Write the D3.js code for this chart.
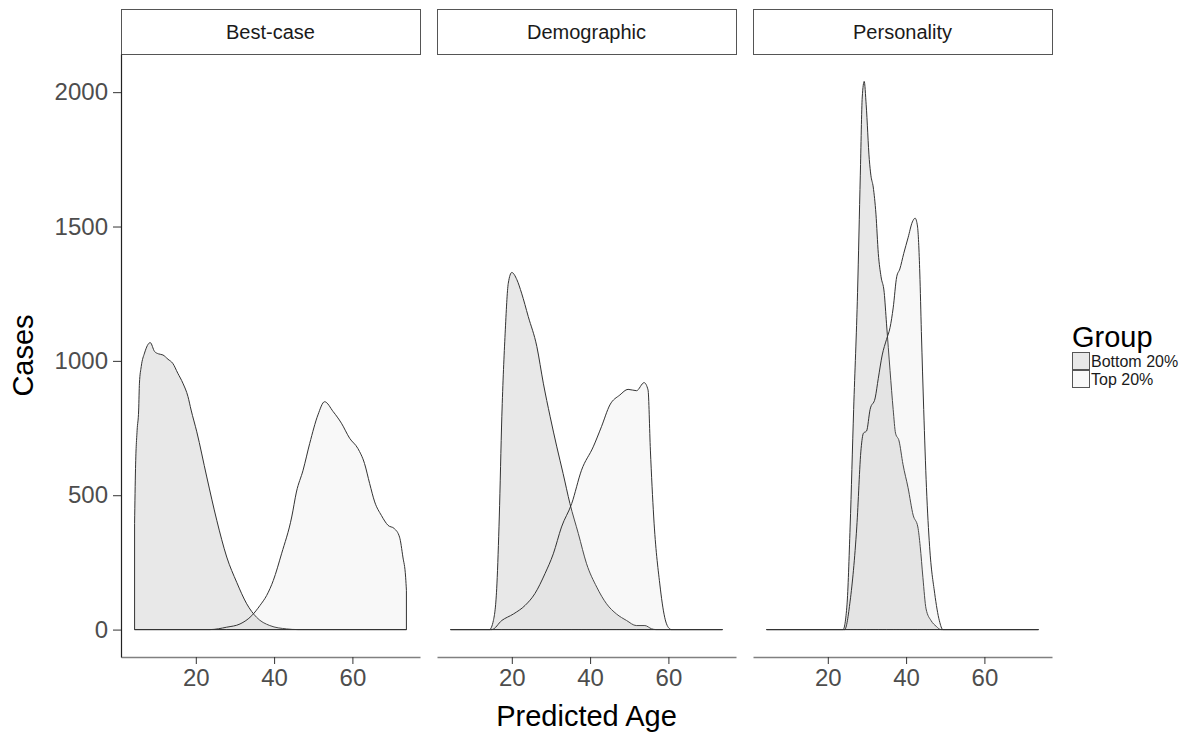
<!DOCTYPE html>
<html lang="en">
<head>
<meta charset="UTF-8">
<title>Predicted Age by Group</title>
<style>
    body {
        margin: 0;
        padding: 0;
        background-color: #fff;
        font-family: "Liberation Sans", Arial, sans-serif;
    }
    .tick text {
        font-family: "Liberation Sans", Arial, sans-serif;
    }
</style>
</head>
<body>
<svg id="chart" width="1184" height="733"></svg>

<script src="https://d3js.org/d3.v7.min.js"></script>
<script>
    // data: [predicted age, cases]
    const panels = ["Best-case", "Demographic", "Personality"];
    const groups = ["Bottom 20%", "Top 20%"];
    const xTicks = [20, 40, 60];
    const yTicks = [0, 500, 1000, 1500, 2000];

    const bestBottom = [[4.36, 395], [4.6, 600], [5.0, 740], [5.4, 817], [5.6, 917], [6.06, 979], [6.9, 1029],
        [8.36, 1068], [9.46, 1035], [10.5, 1026], [11.6, 1022], [12.9, 1006], [14.1, 991], [15.4, 954],
        [16.7, 917], [18.0, 867], [18.8, 817], [20.25, 736], [22.8, 568], [25.35, 407], [27.9, 270],
        [30.45, 176], [33.0, 96], [35.5, 46], [38.9, 15], [43.2, 2.5], [46.1, 0], [73.8, 0]];
    const bestTop = [[4.36, 0], [23.6, 0], [27.9, 9], [31.3, 21], [34.3, 52], [36.4, 90], [38.1, 127],
        [39.8, 183], [41.9, 282], [44.5, 419], [45.7, 512], [47.4, 593], [49.1, 693], [51.2, 799],
        [52.9, 848], [55.1, 811], [57.2, 768], [59.3, 712], [61.4, 674], [63.1, 618], [64.4, 544],
        [65.7, 475], [67.4, 425], [69.1, 388], [70.7, 376], [72.05, 344], [72.9, 270], [73.6, 195], [73.8, 146]];

    const demoBottom = [[4.36, 0], [14.3, 0], [15.3, 34], [16.2, 170], [16.8, 419], [17.45, 792], [18.3, 1103],
        [19.1, 1289], [20.0, 1329], [21.3, 1302], [22.5, 1252], [24.2, 1165], [26.4, 1053], [28.05, 917],
        [29.8, 792], [31.5, 680], [33.1, 581], [34.85, 469], [37.0, 357], [39.1, 245], [41.7, 158],
        [44.2, 96], [46.75, 58], [49.3, 34], [51.8, 15], [54.0, 15], [55.7, 3], [56.8, 0], [73.8, 0]];
    const demoTop = [[4.36, 0], [14.9, 0], [17.45, 34], [20.4, 58], [23.4, 90], [25.9, 134], [28.5, 209],
        [30.6, 282], [32.7, 382], [35.3, 469], [37.8, 593], [40.8, 680], [42.9, 755], [45.05, 836],
        [47.6, 873], [49.7, 894], [51.85, 889], [53.8, 919], [54.8, 892], [55.4, 668], [56.25, 419],
        [57.8, 170], [59.05, 46], [60.3, 3], [60.8, 0], [73.8, 0]];

    const persBottom = [[4.36, 0], [23.9, 0], [24.9, 92], [25.7, 382], [26.6, 819], [27.6, 1255], [28.3, 1691],
        [28.8, 1982], [29.3, 2040], [29.8, 1953], [30.6, 1749], [31.0, 1691], [31.6, 1647], [32.3, 1546],
        [32.9, 1400], [33.6, 1313], [34.4, 1255], [35.0, 1138], [35.9, 964], [36.7, 819], [37.3, 731],
        [38.2, 702], [39.2, 615], [40.5, 528], [41.8, 426], [43.0, 382], [43.6, 310], [44.3, 193],
        [45.1, 77], [46.4, 33], [47.7, 12], [48.9, 0], [73.8, 0]];
    const persTop = [[4.36, 0], [24.3, 0], [25.7, 106], [27.4, 382], [28.5, 673], [29.1, 731], [29.9, 739],
        [30.8, 819], [32.1, 862], [32.9, 935], [33.9, 1022], [35.0, 1080], [35.9, 1124], [36.7, 1197],
        [37.6, 1313], [38.4, 1342], [39.4, 1400], [40.5, 1458], [41.6, 1517], [42.3, 1531], [42.9, 1502],
        [43.5, 1327], [43.9, 1109], [44.5, 819], [45.2, 528], [46.0, 310], [47.3, 135], [48.5, 33],
        [49.4, 0], [73.8, 0]];

    const series = [[bestBottom, bestTop], [demoBottom, demoTop], [persBottom, persTop]];

    // group fills (semi transparent so the overlap gets a bit darker)
    const fills = ["#666666", "#d0d0d0"];
    const fillOpacity = 0.15;

    const svg = d3.select("#chart");
    const font = "'Liberation Sans', Arial, sans-serif";

    // layout of the three facets
    const panelLeft = [121, 437, 753];
    const panelWidth = 299;
    const panelTop = 54;
    const panelBottom = 657;
    const stripTop = 9;

    const yScale = d3.scaleLinear()
        .domain([-102, 2142])
        .range([panelBottom, panelTop]);

    panels.forEach(function(name, i) {
        const left = panelLeft[i];
        const xScale = d3.scaleLinear()
            .domain([0.89, 77.27])
            .range([left, left + panelWidth]);

        // strip
        svg.append("rect")
            .attr("x", left + 0.5)
            .attr("y", stripTop + 0.5)
            .attr("width", panelWidth)
            .attr("height", panelTop - stripTop)
            .attr("fill", "#fff")
            .attr("stroke", "#555")
            .attr("stroke-width", 1);
        svg.append("text")
            .attr("x", left + panelWidth / 2)
            .attr("y", (stripTop + panelTop) / 2 + 7)
            .attr("text-anchor", "middle")
            .attr("font-family", font)
            .attr("font-size", 20)
            .attr("fill", "#1a1a1a")
            .text(name);

        // densities
        const area = d3.area()
            .x(d => xScale(d[0]))
            .y0(yScale(0))
            .y1(d => yScale(d[1]))
            .curve(d3.curveMonotoneX);

        series[i].forEach(function(data, g) {
            svg.append("path")
                .datum(data)
                .attr("d", area)
                .attr("fill", fills[g])
                .attr("fill-opacity", fillOpacity)
                .attr("stroke", "#333")
                .attr("stroke-width", 1)
                .attr("stroke-linejoin", "round");
        });

        // x axis
        const xAxis = svg.append("g")
            .attr("transform", `translate(0, ${panelBottom})`)
            .call(d3.axisBottom(xScale).tickValues(xTicks).tickSize(7).tickSizeOuter(0).tickPadding(5));
        xAxis.select(".domain").attr("stroke", "#808080").attr("stroke-width", 1.5);
        xAxis.selectAll(".tick line").attr("stroke", "#333");
        xAxis.selectAll(".tick text")
            .attr("font-size", 24)
            .attr("fill", "#4d4d4d");
    });

    // y axis only on the first facet
    const yAxis = svg.append("g")
        .attr("transform", `translate(${panelLeft[0]}, 0)`)
        .call(d3.axisLeft(yScale).tickValues(yTicks).tickFormat(d3.format("d"))
            .tickSize(8).tickSizeOuter(0).tickPadding(5));
    yAxis.select(".domain").attr("stroke", "#222").attr("stroke-width", 1.2);
    yAxis.selectAll(".tick line").attr("stroke", "#333");
    yAxis.selectAll(".tick text")
        .attr("font-size", 24)
        .attr("fill", "#4d4d4d");

    // axis titles
    svg.append("text")
        .attr("x", panelLeft[1] + panelWidth / 2)
        .attr("y", 726)
        .attr("text-anchor", "middle")
        .attr("font-family", font)
        .attr("font-size", 29)
        .attr("fill", "#000")
        .text("Predicted Age");
    svg.append("text")
        .attr("transform", `translate(33, ${(panelTop + panelBottom) / 2}) rotate(-90)`)
        .attr("text-anchor", "middle")
        .attr("font-family", font)
        .attr("font-size", 29)
        .attr("fill", "#000")
        .text("Cases");

    // legend
    const legend = svg.append("g").attr("transform", "translate(1072, 0)");
    legend.append("text")
        .attr("x", 0)
        .attr("y", 347)
        .attr("font-family", font)
        .attr("font-size", 29)
        .attr("fill", "#000")
        .text("Group");
    groups.forEach(function(name, g) {
        legend.append("rect")
            .attr("x", 0.5)
            .attr("y", 352 + g * 18 + 0.5)
            .attr("width", 17)
            .attr("height", 17)
            .attr("fill", fills[g])
            .attr("fill-opacity", fillOpacity)
            .attr("stroke", "#555")
            .attr("stroke-width", 1);
        legend.append("text")
            .attr("x", 19)
            .attr("y", 367 + g * 18)
            .attr("font-family", font)
            .attr("font-size", 16)
            .attr("fill", "#1a1a1a")
            .text(name);
    });
</script>
</body>
</html>
